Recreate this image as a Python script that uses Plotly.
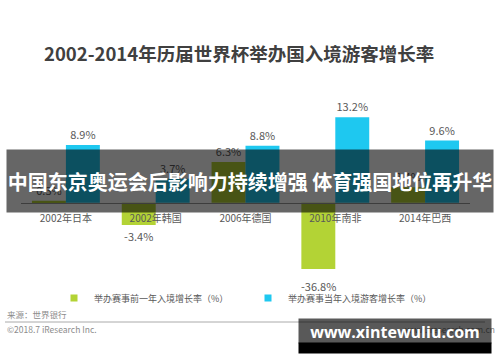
import plotly.graph_objects as go

# ---------------- data ----------------
categories = ["2002年日本", "2002年韩国", "2006年德国", "2010年南非", "2014年巴西"]
prev_year_growth = [0.3, -3.4, 6.3, -36.8, 2.4]     # 举办赛事前一年入境增长率（%）
host_year_growth = [8.9, 3.7, 8.8, 13.2, 9.6]       # 举办赛事当年入境游客增长率（%）
series_names = ["举办赛事前一年入境增长率（%）", "举办赛事当年入境游客增长率（%）"]

title_text = "2002-2014年历届世界杯举办国入境游客增长率"
banner_text = "中国东京奥运会后影响力持续增强 体育强国地位再升华"
source_text = "来源：世界银行"
copyright_text = "©2018.7 iResearch Inc."
site_text = "www.iresearch.com.cn"
watermark_text = "www.xintewuliu.com"

# ---------------- layout constants ----------------
W, H = 500, 362
L, R, T, B = 21, 30, 99, 93
PW, PH = W - L - R, H - T - B
Y_MIN, Y_MAX = -10.2, 16

GREEN = "#B3D335"
BLUE = "#1EC8F0"
FONT = "Noto Sans CJK SC"
TXT = "#595959"


def px(x):
    return (x - L) / PW


def py(y):
    return (H - B - y) / PH


fig = go.Figure()

# clipped bars get their label as an annotation at the axis edge
prev_pos = ["outside" if Y_MIN <= v <= Y_MAX else "none" for v in prev_year_growth]

fig.add_trace(go.Bar(
    x=categories, y=prev_year_growth, name=series_names[0],
    marker=dict(color=GREEN, line=dict(width=0)),
    texttemplate="%{y:.1f}%", textposition=prev_pos,
    textfont=dict(size=11, color=TXT, family=FONT),
    showlegend=False, hoverinfo="skip",
))
fig.add_trace(go.Bar(
    x=categories, y=host_year_growth, name=series_names[1],
    marker=dict(color=BLUE, line=dict(width=0)),
    texttemplate="%{y:.1f}%", textposition="outside",
    textfont=dict(size=11, color=TXT, family=FONT),
    showlegend=False, hoverinfo="skip",
))

# legend entries with small square swatches
for name, col in zip(series_names, [GREEN, BLUE]):
    fig.add_trace(go.Scatter(
        x=[None], y=[None], mode="markers", name=name,
        marker=dict(symbol="square", size=7, color=col),
    ))

annotations = []
for cat, v in zip(categories, prev_year_growth):
    if v < Y_MIN:
        annotations.append(dict(
            x=cat, y=Y_MIN, xref="x", yref="y", xshift=-17, yshift=-7,
            text=f"{v:.1f}%", showarrow=False, yanchor="top",
            font=dict(size=11, color=TXT, family=FONT),
        ))

annotations += [
    dict(x=px(5), y=py(314), xref="paper", yref="paper", xanchor="left", yanchor="middle",
         text=source_text, showarrow=False, font=dict(size=8.5, color="#8c8c8c", family=FONT)),
    dict(x=px(5), y=py(329), xref="paper", yref="paper", xanchor="left", yanchor="middle",
         text=copyright_text, showarrow=False, font=dict(size=8.5, color="#8c8c8c", family=FONT)),
    dict(x=px(403), y=py(329), xref="paper", yref="paper", xanchor="left", yanchor="middle",
         text=site_text, showarrow=False, font=dict(size=8.5, color="#8c8c8c", family=FONT)),
    # banner overlay
    dict(x=px(250), y=py(181), xref="paper", yref="paper", xanchor="center", yanchor="middle",
         text=banner_text, showarrow=False, width=486, height=62, borderpad=0,
         bgcolor="rgba(0,0,0,0.6)",
         font=dict(size=20, color="white", family=FONT, weight="bold")),
    # watermark: solid lower strip
    dict(x=px(395), y=py(348), xref="paper", yref="paper", xanchor="center", yanchor="middle",
         text="", showarrow=False, width=192, height=10, borderpad=0, bgcolor="black",
         font=dict(size=1)),
    # watermark: translucent upper part with text
    dict(x=px(395), y=py(331), xref="paper", yref="paper", xanchor="center", yanchor="middle",
         text=watermark_text, showarrow=False, width=192, height=24, borderpad=0,
         valign="bottom", bgcolor="rgba(0,0,0,0.65)",
         font=dict(size=16, color="white", family="Open Sans", weight="bold")),
    # title
    dict(x=px(42), y=py(53), xref="paper", yref="paper", xanchor="left", yanchor="middle",
         text=title_text, showarrow=False,
         font=dict(size=18.5, color="#404040", family=FONT, weight="bold")),
]

fig.update_layout(
    width=W, height=H,
    margin=dict(l=L, r=R, t=T, b=B, autoexpand=False),
    paper_bgcolor="white", plot_bgcolor="white",
    barmode="group", bargap=0.244, bargroupgap=0,
    hovermode=False,
    xaxis=dict(type="category", anchor="free",
               position=(0 - Y_MIN) / (Y_MAX - Y_MIN),
               showline=True, linecolor="#999999", linewidth=1,
               ticks="outside", ticklen=6, tickcolor="rgba(0,0,0,0)",
               tickfont=dict(size=10, color=TXT, family=FONT),
               showgrid=False, zeroline=False, fixedrange=True),
    yaxis=dict(range=[Y_MIN, Y_MAX], visible=False, showgrid=False, zeroline=False,
               fixedrange=True),
    legend=dict(orientation="h", x=px(54), xanchor="left", y=py(298), yanchor="middle",
                font=dict(size=9, color=TXT, family=FONT),
                entrywidth=149, entrywidthmode="pixels",
                bgcolor="rgba(0,0,0,0)", itemclick=False),
    shapes=[dict(type="line", xref="paper", yref="paper", x0=px(5), x1=px(485),
                 y0=py(322), y1=py(322), line=dict(color="#aaaaaa", width=1))],
    annotations=annotations,
    font=dict(family=FONT),
)

fig.write_html("out.html",
               config={"displayModeBar": False},
               post_script="document.body.style.margin='0';document.body.style.padding='0';")
